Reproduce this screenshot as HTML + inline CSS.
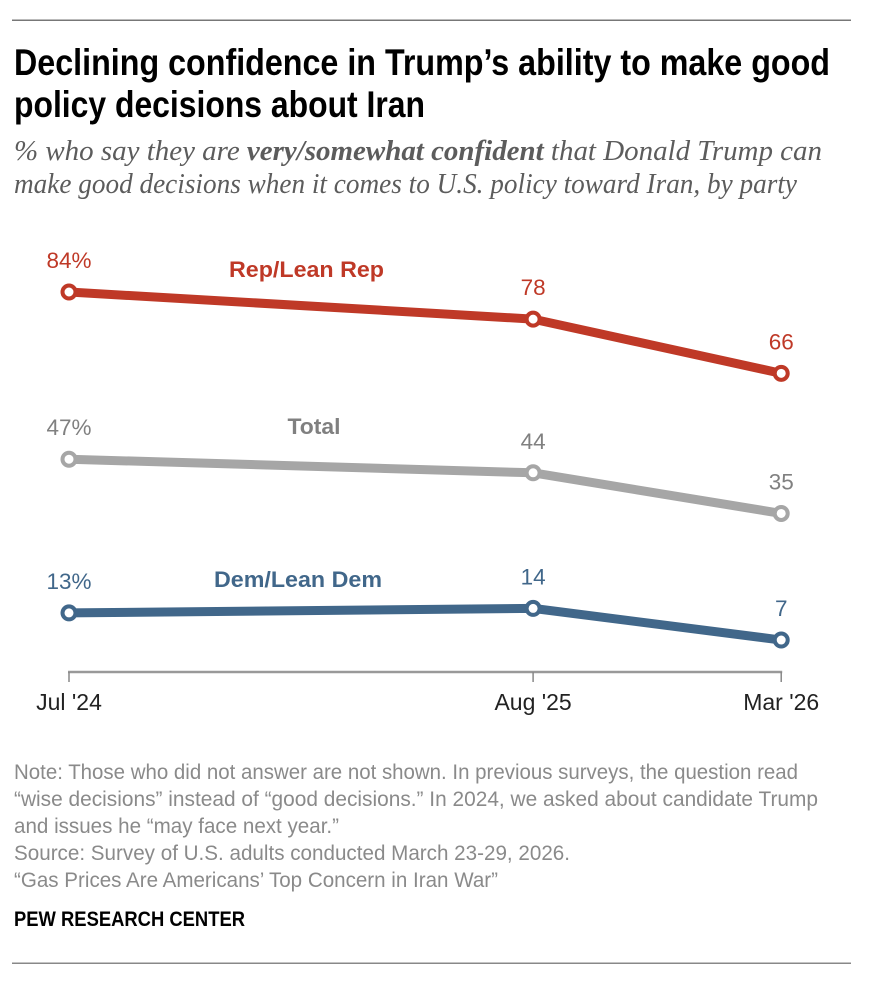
<!DOCTYPE html>
<html lang="en">
<head>
<meta charset="utf-8">
<title>Declining confidence in Trump's ability to make good policy decisions about Iran</title>
<style>
  html, body { margin: 0; padding: 0; background: #fff; }
  body { width: 876px; height: 1008px; overflow: hidden; }
  svg { display: block; }
  .sans { font-family: "Liberation Sans", sans-serif; }
  .serif { font-family: "Liberation Serif", serif; }
  .ttl { font-weight: 700; font-size: 37px; fill: #000; }
  .sub { font-style: italic; font-size: 28px; fill: #5c5c5c; }
  .note { font-size: 21.5px; fill: #8a8a8a; }
</style>
</head>
<body>
<svg id="chart" xmlns="http://www.w3.org/2000/svg" width="876" height="1008" viewBox="0 0 876 1008">
  <rect x="0" y="0" width="876" height="1008" fill="#fff"/>
  <rect x="12" y="19.5" width="839" height="1.5" fill="#777"/>

  <text class="sans ttl" x="14" y="75" textLength="816" lengthAdjust="spacingAndGlyphs">Declining confidence in Trump’s ability to make good</text>
  <text class="sans ttl" x="14" y="117" textLength="411" lengthAdjust="spacingAndGlyphs">policy decisions about Iran</text>

  <text class="serif sub" x="14" y="160" textLength="808" lengthAdjust="spacingAndGlyphs">% who say they are <tspan font-weight="700">very/somewhat confident</tspan> that Donald Trump can</text>
  <text class="serif sub" x="14" y="193" textLength="783" lengthAdjust="spacingAndGlyphs">make good decisions when it comes to U.S. policy toward Iran, by party</text>

  <g id="plot"></g>

  <text class="sans note" x="14" y="779" textLength="784" lengthAdjust="spacingAndGlyphs">Note: Those who did not answer are not shown. In previous surveys, the question read</text>
  <text class="sans note" x="14" y="806" textLength="804" lengthAdjust="spacingAndGlyphs">“wise decisions” instead of “good decisions.” In 2024, we asked about candidate Trump</text>
  <text class="sans note" x="14" y="833" textLength="325" lengthAdjust="spacingAndGlyphs">and issues he “may face next year.”</text>
  <text class="sans note" x="14" y="860" textLength="556" lengthAdjust="spacingAndGlyphs">Source: Survey of U.S. adults conducted March 23-29, 2026.</text>
  <text class="sans note" x="14" y="887" textLength="484" lengthAdjust="spacingAndGlyphs">“Gas Prices Are Americans’ Top Concern in Iran War”</text>
  <text class="sans" x="14" y="926" font-size="21.5" font-weight="700" fill="#000" textLength="231" lengthAdjust="spacingAndGlyphs">PEW RESEARCH CENTER</text>

  <rect x="12" y="962.5" width="839" height="1.5" fill="#888"/>
</svg>
<script>
// Chart data
const categories = ["Jul '24", "Aug '25", "Mar '26"];
const monthsFromStart = [0, 13, 19.95];
const repValues = [84, 78, 66];
const totalValues = [47, 44, 35];
const demValues = [13, 14, 7];
const valueSuffixes = ["%", "", ""];

// Axis functions
const xScale = function (m) { return 69 + m * 35.7; };
const yScale = function (v) { return 292 + (84 - v) * 4.52; };
const axisY = 672;

const NS = 'http://www.w3.org/2000/svg';
const plot = document.getElementById('plot');

function make(tag, attrs, text) {
  const el = document.createElementNS(NS, tag);
  Object.keys(attrs).forEach(function (k) { el.setAttribute(k, attrs[k]); });
  if (text !== undefined) el.textContent = text;
  plot.appendChild(el);
  return el;
}

// X axis
const axisLine = make('line', { x1: xScale(monthsFromStart[0]) - 1, x2: xScale(monthsFromStart[monthsFromStart.length - 1]) + 1, y1: axisY, y2: axisY, stroke: '#999', 'stroke-width': 2.5 });



categories.forEach(function (c, i) {
  const x = xScale(monthsFromStart[i]);
  const tick = make('line', { x1: x, x2: x, y1: axisY, y2: axisY + 10, stroke: '#888', 'stroke-width': 1.5 });
  
  
  const label = make('text', { x: x, y: axisY + 38, 'text-anchor': 'middle', 'font-family': '"Liberation Sans", sans-serif', 'font-size': 23, fill: '#222' }, c);
  
  
});

// Series
function drawSeries(values, color, textColor, slug) {
  const pts = values.map(function (v, i) { return xScale(monthsFromStart[i]) + ',' + yScale(v); }).join(' ');
  const line = make('polyline', { points: pts, fill: 'none', stroke: color, 'stroke-width': 9, 'stroke-linejoin': 'round' });
  
  
  values.forEach(function (v, i) {
    const x = xScale(monthsFromStart[i]);
    const y = yScale(v);
    const point = make('circle', { cx: x, cy: y, r: 6.5, fill: '#fff', stroke: color, 'stroke-width': 4 });
    
    
    const label = make('text', { x: x, y: y - 24, 'text-anchor': 'middle', 'font-family': '"Liberation Sans", sans-serif', 'font-size': 22.5, fill: textColor }, v + valueSuffixes[i]);
    
    
  });
}

drawSeries(repValues, '#bf3927', '#bf3927', 'rep-lean-rep');
drawSeries(totalValues, '#a6a6a6', '#808080', 'total');
drawSeries(demValues, '#41678a', '#41678a', 'dem-lean-dem');

// Direct series labels
function seriesLabel(text, cx, baseline, color, width, slug) {
  const el = make('text', { x: cx - width / 2, y: baseline, 'font-family': '"Liberation Sans", sans-serif', 'font-size': 22, 'font-weight': 700, fill: color, textLength: width, lengthAdjust: 'spacingAndGlyphs' }, text);
  
  
}
seriesLabel('Rep/Lean Rep', 306.5, 277, '#bf3927', 155, 'rep-lean-rep-series-label');
seriesLabel('Total', 314, 434, '#808080', 53, 'total-series-label');
seriesLabel('Dem/Lean Dem', 298, 587, '#41678a', 168, 'dem-lean-dem-series-label');
</script>
</body>
</html>
